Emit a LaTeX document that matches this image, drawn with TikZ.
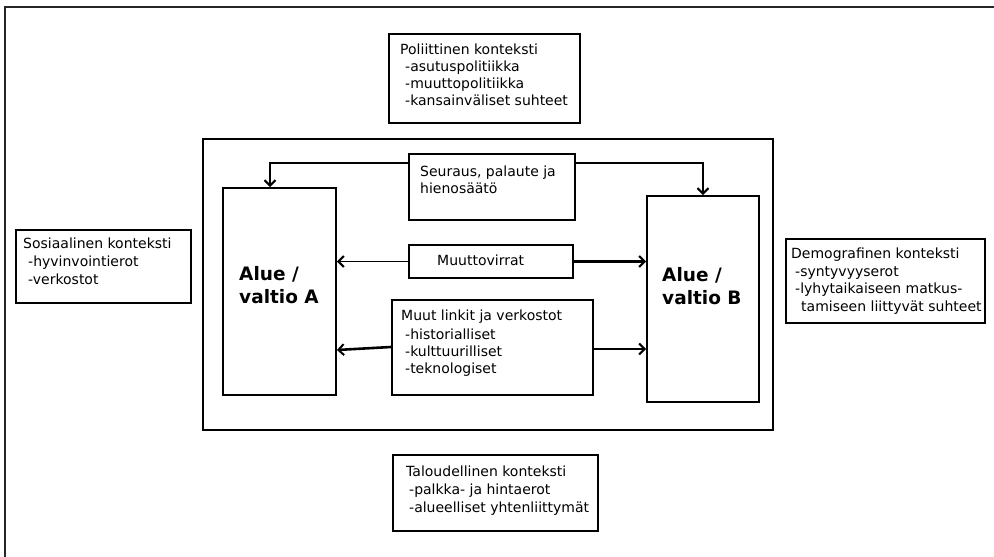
\documentclass[tikz,border=0pt]{standalone}
\usepackage{fontspec}
\setmainfont{DejaVu Sans}
\usetikzlibrary{arrows.meta}
\begin{document}
\begin{tikzpicture}[x=1bp,y=-1bp,
  box/.style={draw, line width=1.9bp, inner sep=0pt},
  txt/.style={inner sep=0pt, anchor=north west, align=left, font=\fontsize{14bp}{17bp}\selectfont},
  big/.style={inner sep=0pt, anchor=north west, align=left, font=\bfseries\fontsize{18.5bp}{23bp}\selectfont},
  arr/.style={line width=1.8bp, -{Straight Barb[length=5.5bp,width=11bp,line width=2bp]}}]
\useasboundingbox (0,0) rectangle (994,557);
% page frame (top and left edges only)
\draw[line width=1.5bp, black!85] (994,7) -- (5,7) -- (5,557);

% context boxes
\node[box, minimum width=191bp, minimum height=89bp] (pol) at (484.5,78.5) {};
\node[box, minimum width=175bp, minimum height=73bp] (sos) at (103.5,266.5) {};
\node[box, minimum width=199bp, minimum height=84bp] (demo) at (885.5,281) {};
\node[box, minimum width=205bp, minimum height=76bp] (talo) at (495.5,493) {};

% central frame
\node[box, minimum width=570bp, minimum height=291bp] (frame) at (488,284.5) {};

% inner boxes
\node[box, minimum width=113bp, minimum height=207bp] (aluea) at (279.5,291.5) {};
\node[box, minimum width=112bp, minimum height=206bp] (alueb) at (703,299) {};
\node[box, minimum width=166bp, minimum height=66bp] (seur) at (492,187) {};
\node[box, minimum width=164bp, minimum height=33bp] (muutto) at (491,261.5) {};
\node[box, minimum width=201bp, minimum height=95bp] (muut) at (492.5,347.5) {};

% texts
\node[txt, font=\fontsize{14bp}{16.8bp}\selectfont] (poltxt) at (400,44)
  {Poliittinen konteksti\\\hspace*{5bp}-asutuspolitiikka\\\hspace*{5bp}-muuttopolitiikka\\\hspace*{5bp}-kansainväliset suhteet};
\node[txt, font=\fontsize{14bp}{18bp}\selectfont] (sostxt) at (23,238)
  {Sosiaalinen konteksti\\\hspace*{5bp}-hyvinvointierot\\\hspace*{5bp}-verkostot};
\node[txt, font=\fontsize{14bp}{17.4bp}\selectfont] (demotxt) at (791,248)
  {Demografinen konteksti\\\hspace*{4bp}-syntyvyyserot\\\hspace*{4bp}-lyhytaikaiseen matkus-\\\hspace*{10bp}tamiseen liittyvät suhteet};
\node[txt, font=\fontsize{14bp}{18bp}\selectfont] (talotxt) at (406,466)
  {Taloudellinen konteksti\\\hspace*{3bp}-palkka- ja hintaerot\\\hspace*{3bp}-alueelliset yhtenliittymät};
\node[txt, font=\fontsize{14bp}{17bp}\selectfont] (seurtxt) at (420,165.4)
  {Seuraus, palaute ja\\hienosäätö};
\node[txt, anchor=base west] (muuttotxt) at (437,265.5) {Muuttovirrat};
\node[txt, font=\fontsize{14bp}{17.3bp}\selectfont] (muuttxt) at (401,309.4)
  {Muut linkit ja verkostot\\[1.7bp]\hspace*{4bp}-historialliset\\\hspace*{4bp}-kulttuurilliset\\\hspace*{4bp}-teknologiset};
\node[big] (alueatxt) at (239,266) {Alue /\\valtio A};
\node[big] (aluebtxt) at (662,267) {Alue /\\valtio B};

% connectors
\coordinate (fbL) at (270,163);
\coordinate (fbR) at (703,163);
\draw[arr] (seur.west |- fbL) -| (fbL |- aluea.north);
\draw[arr] (seur.east |- fbR) -| (fbR |- alueb.north);
\draw[arr] (muutto.west) -- (muutto.west -| aluea.east);
\draw[arr, line width=2.3bp] (muutto.east) -- (muutto.east -| alueb.west);
\draw[arr, line width=2.6bp] ([yshift=0.5bp]muut.west) -- ([yshift=-2.5bp]muut.west -| aluea.east);
\draw[arr] ([yshift=-1.5bp]muut.east) -- ([yshift=-1.5bp]muut.east -| alueb.west);
\end{tikzpicture}
\end{document}
